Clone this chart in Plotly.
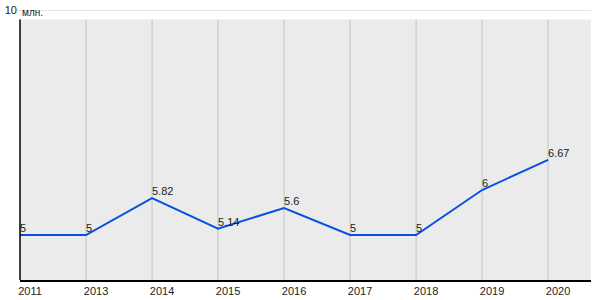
import plotly.graph_objects as go

years = ["2011", "2013", "2014", "2015", "2016", "2017", "2018", "2019", "2020"]
values = [5, 5, 5.82, 5.14, 5.6, 5, 5, 6, 6.67]
labels = ["5", "5", "5.82", "5.14", "5.6", "5", "5", "6", "6.67"]
y_ticks = [10]
unit = "млн."

idx = list(range(len(years)))
top_frac = (280 - 19.5) / 270

fig = go.Figure()
fig.add_trace(go.Scatter(
    x=idx, y=values, mode="lines+text", text=labels,
    textposition="top right",
    textfont=dict(family="Liberation Sans, Arial", size=11, color="#222"),
    line=dict(color="#0a50e0", width=2),
    hoverinfo="skip", cliponaxis=False,
))

shapes = [
    dict(type="rect", xref="paper", yref="paper", x0=0, x1=1, y0=0, y1=top_frac,
         fillcolor="#ebebeb", line=dict(width=0), layer="below"),
    dict(type="line", xref="paper", yref="y", x0=-0.006, x1=1, y0=10, y1=10,
         line=dict(color="#c8c8c8", width=1), layer="below"),
]
for i in idx[1:]:
    shapes.append(dict(type="line", xref="x", yref="paper", x0=i, x1=i, y0=0, y1=top_frac,
                       line=dict(color="#c4c4c4", width=1), layer="below"))
shapes.append(dict(type="line", xref="paper", yref="paper", x0=0, x1=0, y0=0, y1=top_frac,
                   line=dict(color="black", width=1.5)))
fig.update_layout(shapes=shapes)

fig.add_annotation(xref="paper", yref="paper", x=0, y=1, xanchor="left", yanchor="middle",
                   text=unit, showarrow=False, yshift=-2,
                   font=dict(family="Liberation Sans, Arial", size=10, color="#222"))

fig.update_layout(
    width=600, height=300,
    margin=dict(l=20, r=9, t=10, b=20),
    paper_bgcolor="white", plot_bgcolor="white",
    showlegend=False,
    xaxis=dict(range=[0, 8.65], tickvals=idx, ticktext=years, showgrid=False,
               zeroline=False, showline=True, linecolor="black", linewidth=1.5,
               ticks="", ticklabelshift=10, ticklabelstandoff=0, automargin=False,
               tickfont=dict(family="Liberation Sans, Arial", size=11, color="#222")),
    yaxis=dict(range=[4, 10], tickvals=y_ticks, showgrid=False, zeroline=False,
               showline=False, ticks="", ticklabelstandoff=2, automargin=False,
               tickfont=dict(family="Liberation Sans, Arial", size=11, color="#222")),
)

fig.write_html("out.html")
